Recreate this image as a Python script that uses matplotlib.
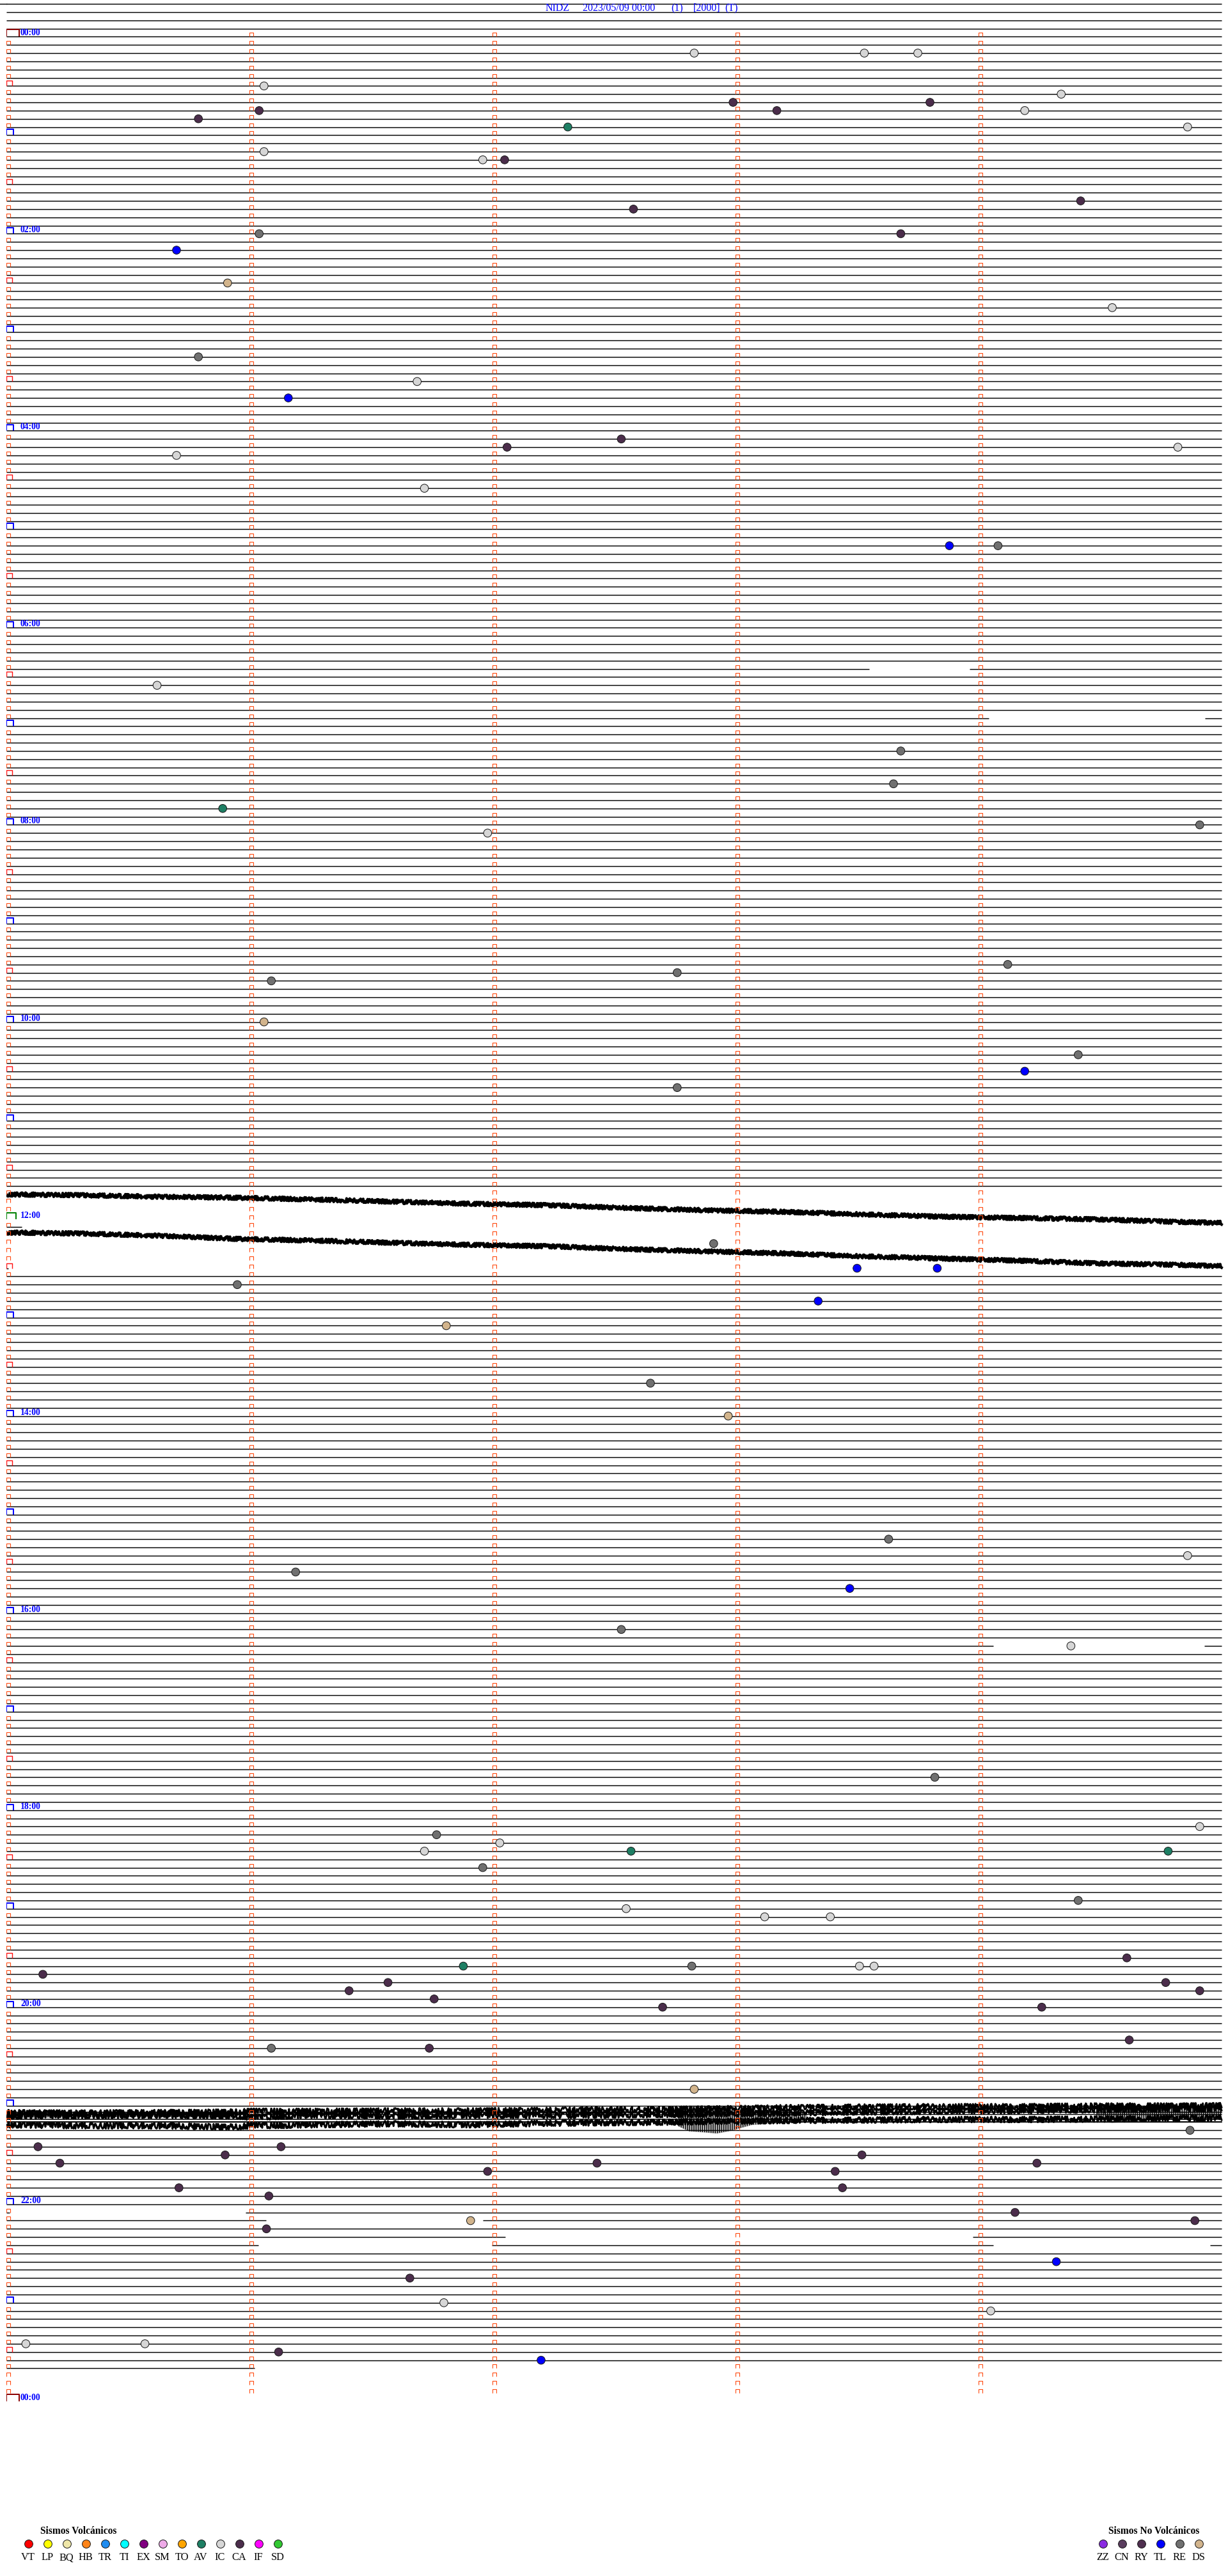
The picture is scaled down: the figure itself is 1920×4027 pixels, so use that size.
import matplotlib
matplotlib.use("Agg")
import matplotlib.pyplot as plt
from matplotlib.path import Path
from matplotlib.collections import LineCollection
import numpy as np

# ---------------- data ----------------
title_parts = ["NIDZ", "2023/05/09 00:00", "(1)", "[2000]", "(T)"]
hour_labels = ["00:00", "02:00", "04:00", "06:00", "08:00", "10:00", "12:00",
               "14:00", "16:00", "18:00", "20:00", "22:00", "00:00"]

ROW_MIN = 5          # minutes per trace line
LEAD_ROWS = 4        # trace lines shown before 00:00
N_LINES = 289        # trace lines drawn
N_ROWS = 288         # 5-minute rows in 24 h

# event times (minutes after 00:00) and types
event_minutes = [12.83, 13.53, 13.75, 31.06, 42.99, 50.79, 46.04, 48.17, 43.80, 49.19,
                 39.34, 57.31, 59.86, 71.06, 76.96, 77.05, 107.58, 104.42, 121.04, 123.68,
                 130.70, 150.91, 169.55, 195.79, 211.69, 221.16, 252.06, 247.53, 255.70, 254.82,
                 276.72, 313.88, 314.08, 395.62, 438.68, 458.65, 470.89, 484.91, 486.98, 576.09,
                 572.76, 569.12, 601.06, 624.41, 634.19, 642.76, 737.91, 753.50, 753.83, 760.95,
                 773.34, 786.81, 822.65, 842.97, 918.63, 929.86, 936.19, 948.47, 972.53, 984.38,
                 1063.82, 1096.77, 1094.91, 1102.03, 1106.72, 1107.57, 1109.78, 1116.96, 1139.41, 1142.55,
                 1148.12, 1148.39, 1174.61, 1180.15, 1176.88, 1177.82, 1178.51, 1178.57, 1186.57, 1191.41,
                 1189.77, 1194.91, 1196.76, 1202.70, 1204.26, 1224.62, 1226.09, 1226.74, 1252.83, 1279.87,
                 1285.13, 1286.13, 1295.22, 1290.90, 1293.52, 1299.24, 1301.98, 1297.43, 1303.41, 1310.71,
                 1313.44, 1316.08, 1329.15, 1331.91, 1334.89, 1336.07, 1359.32, 1366.66, 1381.80, 1389.05,
                 1405.08, 1405.57, 1411.12, 1417.20]
event_types = ["IC", "IC", "IC", "IC", "CA", "CA", "CA", "CA", "CA", "IC",
               "IC", "AV", "IC", "IC", "IC", "CA", "CA", "CA", "RE", "CA",
               "TL", "DS", "IC", "RE", "IC", "TL", "CA", "CA", "IC", "IC",
               "IC", "TL", "RE", "IC", "RE", "RE", "AV", "RE", "IC", "RE",
               "RE", "RE", "DS", "RE", "TL", "RE", "RE", "TL", "TL", "RE",
               "TL", "DS", "RE", "DS", "RE", "IC", "RE", "TL", "RE", "IC",
               "RE", "RE", "IC", "IC", "IC", "AV", "AV", "RE", "RE", "IC",
               "IC", "IC", "CA", "CA", "AV", "RE", "IC", "IC", "CA", "CA",
               "CA", "CA", "CA", "CA", "CA", "CA", "RE", "CA", "DS", "RE",
               "CA", "CA", "CA", "CA", "CA", "CA", "CA", "CA", "CA", "CA",
               "CA", "CA", "CA", "DS", "CA", "CA", "TL", "CA", "IC", "IC",
               "IC", "IC", "CA", "TL"]

volc_types = ["VT", "LP", "BQ", "HB", "TR", "TI", "EX", "SM", "TO", "AV", "IC", "CA", "IF", "SD"]
volc_colors = ["#FF0000", "#FFFF00", "#EEE6A8", "#FF8418", "#1E8CF0", "#00FFFF", "#800080",
               "#EEAAE8", "#FFA500", "#1E7F64", "#D6D6D6", "#4B2D4B", "#FF00FF", "#32C832"]
nonvolc_types = ["ZZ", "CN", "RY", "TL", "RE", "DS"]
nonvolc_colors = ["#8A2BE2", "#5A3D5E", "#4F2F4F", "#0000FF", "#707070", "#D2B48C"]

# data gaps: line index -> list of (start_min, end_min) without data
line_gaps = {81: [(3.55, 3.963)], 87: [(4.042, 4.932)],
             145: [(0, 5)], 146: [(0, 5)], 147: [(0, 5)], 148: [(0, 5)],
             149: [(0.063, 5)], 150: [(0, 5)], 151: [(0, 5)], 152: [(0, 5)],
             153: [(0, 5)], 154: [(0.008, 5)], 200: [(4.06, 4.93)],
             269: [(0.013, 0.984)], 270: [(1.068, 1.961)], 272: [(2.053, 3.976)],
             273: [(1.037, 1.997), (4.061, 4.953)], 288: [(1.021, 5)]}

# drifting traces (offset in rows) around 11:40 and 12:05
drift_x = [0, 0.3, 0.62, 0.94, 1.26, 1.58, 1.91, 2.23, 2.55, 2.87, 3.2, 3.52, 3.84, 4.16, 4.48, 4.81, 5.0]
drift_145 = [0, 0.1, 0.29, 0.41, 0.62, 0.88, 1.15, 1.32, 1.66, 1.93, 2.13, 2.44, 2.71, 2.88, 3.04, 3.35, 3.48]
drift_150 = [-0.36, -0.23, 0.03, 0.42, 0.62, 0.89, 1.15, 1.32, 1.67, 1.93, 2.19, 2.55, 2.81, 3.07, 3.40, 3.58, 3.74]

# noisy band starting at line 256 (~21:00), offsets in rows
band_x = [0, 0.296, 0.618, 0.94, 1.005, 1.262, 1.585, 1.907, 2.229, 2.551, 2.874, 3.196,
          3.518, 3.84, 4.162, 4.484, 4.807, 5.0]
band_a = [0.85, 0.90, 0.85, 0.77, 0.69, 0.69, 0.64, 0.64, 0.58, 0.51, 0.41, 0.25,
          0.17, 0.12, 0.12, 0.04, 0.04, 0.0]
band_b = [1.29, 1.24, 1.16, 1.24, 1.42, 1.16, 1.29, 1.16, 1.16, 1.11, 1.03, 0.90,
          0.77, 0.69, 0.58, 0.51, 0.38, 0.38]
band_c = [2.33, 2.45, 2.45, 2.59, 2.45, 2.33, 2.20, 2.33, 2.14, 2.06, 1.94, 1.81,
          1.75, 1.68, 1.68, 1.63, 1.55, 1.55]
band_flat = [0.77, 1.68, 1.94]   # extra flat traces inside the band
burst1_x = [2.761, 2.809, 2.874, 2.922, 2.970, 3.019, 3.067, 3.196, 3.293]
burst1_top = [0.38, 0.0, 0.0, 0.12, 0.12, 0.38, 0.51, 0.64, 0.77]
burst1_bot = [2.45, 3.11, 3.24, 3.37, 3.11, 2.72, 2.33, 2.07, 1.81]
burst2_x = [4.484, 4.549, 4.645, 4.807, 4.935, 5.0]
burst2_top = [0.04, 0.0, 0.0, 0.04, 0.04, 0.0]
burst2_bot = [1.42, 2.07, 1.81, 1.68, 1.55, 1.42]
burst0_x = [0.0, 0.3, 0.62, 0.94]          # dense noise at band start
burst0_top = [0.80, 0.82, 0.80, 0.72]
burst0_bot = [1.45, 1.40, 1.35, 1.45]

# ---------------- layout / style ----------------
W, H, DPI = 1920, 4027, 100
PX_MIN = 380.0      # pixels per minute
ROW_PX = 12.835     # pixels per trace line
TOP_PX = 6.0
LEFT_PX = 10.0
PT = 72.0 / DPI     # points per pixel
SERIF = ["Liberation Serif", "DejaVu Serif"]

type_color = dict(zip(volc_types + nonvolc_types, volc_colors + nonvolc_colors))

fig = plt.figure(figsize=(W / DPI, H / DPI), dpi=DPI)
fig.patch.set_facecolor("white")
ax = fig.add_axes([LEFT_PX / W, 0, 1 - LEFT_PX / W, 1])
ax.set_xlim(0, (W - LEFT_PX) / PX_MIN)
ax.set_ylim((H - TOP_PX) / ROW_PX, -TOP_PX / ROW_PX)
ax.axis("off")

# ---- trace lines ----
segs = []
for k in range(N_LINES):
    pieces = [(0.0, 5.0)]
    for g0, g1 in line_gaps.get(k, []):
        new = []
        for a, b in pieces:
            if g1 <= a or g0 >= b:
                new.append((a, b))
            else:
                if g0 > a:
                    new.append((a, g0))
                if g1 < b:
                    new.append((g1, b))
        pieces = new
    for a, b in pieces:
        segs.append([(a, k), (b, k)])
lc = LineCollection(segs, colors="black", linewidths=1.45 * PT, zorder=2)
ax.add_collection(lc)

# ---- drifting / noisy traces ----
for base, off in [(145, drift_145), (150, drift_150)]:
    ln, = ax.plot(drift_x, base + np.array(off), color="black", lw=4.2 * PT, zorder=3,
                  solid_joinstyle="round")
    ln.set_sketch_params(scale=3.0, length=2.5, randomness=4.0)
for off in (band_a, band_b, band_c):
    ln, = ax.plot(band_x, 256 + np.array(off), color="black", lw=2.8 * PT, zorder=3)
    ln.set_sketch_params(scale=4.5, length=4.0, randomness=4.0)
for off in band_flat:
    ax.plot([0, 5], [256 + off, 256 + off], color="black", lw=1.6 * PT, zorder=3)
for bx, bt, bb in [(burst1_x, burst1_top, burst1_bot), (burst2_x, burst2_top, burst2_bot),
                   (burst0_x, burst0_top, burst0_bot)]:
    ax.fill_between(bx, 256 + np.array(bt), 256 + np.array(bb), facecolor="none",
                    edgecolor="black", hatch="|||||", linewidth=0, zorder=3)
    ax.fill_between(bx, 256 + np.array(bt), 256 + np.array(bb), color="black",
                    alpha=0.25, linewidth=0, zorder=3)


# ---- minute markers (open boxes) ----
def box(w, h):
    return Path([(0, 0), (0, h), (w, h), (w, 0)],
                [Path.MOVETO, Path.LINETO, Path.LINETO, Path.LINETO])


def draw_boxes(xs, ks, w, h, color, lw):
    ax.plot(xs, ks, linestyle="none", marker=box(w, h), markersize=2 * max(w, h) * PT,
            markerfacecolor="none", markeredgecolor=color, markeredgewidth=lw * PT, zorder=4)


rows = np.arange(N_ROWS)
small_x, small_k = [], []
for r in rows:
    k = r + LEAD_ROWS
    cols = [1, 2, 3, 4] if r % 6 == 0 else [0, 1, 2, 3, 4]
    for c in cols:
        small_x.append(c)
        small_k.append(k)
draw_boxes(small_x, small_k, 5.7, 6.0, "#FF4A10", 1.1)
half = [r + LEAD_ROWS for r in rows if r % 12 == 6]
draw_boxes([0] * len(half), half, 9.0, 8.5, "#FF1010", 1.4)
hours = [r + LEAD_ROWS for r in rows if r % 12 == 0 and r not in (0, 144)]
draw_boxes([0] * len(hours), hours, 10.6, 9.0, "#0000FF", 2.0)
draw_boxes([0, 0], [LEAD_ROWS, N_ROWS + LEAD_ROWS], 19.6, 10.7, "#8B0000", 2.0)
draw_boxes([0], [144 + LEAD_ROWS], 15.0, 10.0, "#008000", 2.0)

# ---- hour labels ----
for i, lab in enumerate(hour_labels):
    k = i * 24 + LEAD_ROWS
    ax.annotate(lab, xy=(0, k), xytext=(22, 5.5), textcoords="offset pixels",
                ha="left", va="center", color="#0000FF", fontsize=9.8, fontweight="bold",
                family=SERIF, zorder=5)

# ---- events ----
t = np.array(event_minutes)
ek = np.floor(t / ROW_MIN).astype(int) + LEAD_ROWS
ex = t - np.floor(t / ROW_MIN) * ROW_MIN
ecol = [type_color[e] for e in event_types]
ax.scatter(ex, ek, s=(12.6 * PT) ** 2, c=ecol, edgecolors="#1A1A1A", linewidths=1.0 * PT,
           zorder=6)

# ---- overlay for title and legends (pixel layout) ----
lax = fig.add_axes([0, 0, 1, 1], facecolor="none")
lax.set_xlim(0, W)
lax.set_ylim(H, 0)
lax.axis("off")
# top-most line starts at the very left edge
lax.plot([0, LEFT_PX], [TOP_PX, TOP_PX], color="black", lw=1.45 * PT)

title_x = [853, 911, 1049, 1084, 1133]
for s, x in zip(title_parts, title_x):
    lax.text(x, 13, s, color="#0000FF", fontsize=11.5, family=SERIF, ha="left", va="center")

legend_y_title, legend_y_dot, legend_y_lab = 3957, 3977, 3998
lax.text(63, legend_y_title, "Sismos Volcánicos", fontsize=11.2, fontweight="bold",
         family=SERIF, ha="left", va="center", color="black")
vx = 45 + 30 * np.arange(len(volc_types))
lax.scatter(vx, [legend_y_dot] * len(vx), s=(12.8 * PT) ** 2, c=volc_colors,
            edgecolors="#1A1A1A", linewidths=1.0 * PT)
for x, lab in zip(vx, volc_types):
    lax.text(x - 1, legend_y_lab, lab, fontsize=11.8, family=SERIF, ha="center", va="center",
             color="black")

lax.text(1733, legend_y_title, "Sismos No Volcánicos", fontsize=11.2, fontweight="bold",
         family=SERIF, ha="left", va="center", color="black")
nx = 1725 + 30 * np.arange(len(nonvolc_types))
lax.scatter(nx, [legend_y_dot] * len(nx), s=(12.8 * PT) ** 2, c=nonvolc_colors,
            edgecolors="#1A1A1A", linewidths=1.0 * PT)
for x, lab in zip(nx, nonvolc_types):
    lax.text(x - 1, legend_y_lab, lab, fontsize=11.8, family=SERIF, ha="center", va="center",
             color="black")

fig.savefig("out.png", dpi=DPI, facecolor="white")
